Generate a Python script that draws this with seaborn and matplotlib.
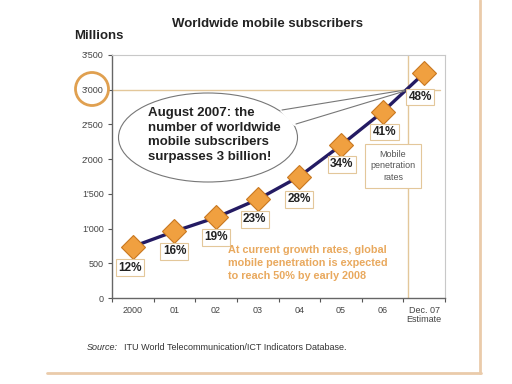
import matplotlib
matplotlib.use("Agg")
import matplotlib.pyplot as plt
from matplotlib.patches import Ellipse, Polygon, Circle
from matplotlib.ticker import FuncFormatter
import seaborn as sns
import pandas as pd

# Data
years = ["2000", "01", "02", "03", "04", "05", "06", "Dec. 07\nEstimate"]
subscribers = [740, 960, 1160, 1420, 1750, 2200, 2680, 3240]
penetration = ["12%", "16%", "19%", "23%", "28%", "34%", "41%", "48%"]
yticks = [0, 500, 1000, 1500, 2000, 2500, 3000, 3500]

df = pd.DataFrame({"x": range(len(years)), "y": subscribers})

sns.set_theme(style="white")
plt.rcParams["font.family"] = ["Liberation Sans", "DejaVu Sans"]

W, H = 512, 384
fig = plt.figure(figsize=(W / 100, H / 100), dpi=100)
fig.patch.set_facecolor("white")

ax = fig.add_axes([112 / W, (H - 298) / H, 333 / W, 243 / H])
tan = "#E3C79A"
orange = "#F0A040"
navy = "#241B63"

ax.axhline(3000, xmin=0, xmax=(7.38 + 0.5) / 8, color=tan, lw=1, zorder=1)
ax.axvline(6.6, color=tan, lw=1, zorder=1)

sns.lineplot(data=df, x="x", y="y", ax=ax, color=navy, lw=2.4, marker="D",
             markersize=12, markerfacecolor=orange, markeredgecolor="#C87820",
             markeredgewidth=0.8, zorder=3)

offsets = [(-3, -21), (0, -20), (0, -20), (-3, -20), (0, -23), (1, -19), (2, -20), (-4, -24)]
for i, (lab, off) in enumerate(zip(penetration, offsets)):
    ax.annotate(lab, (i, subscribers[i]), xytext=off, textcoords="offset pixels",
                ha="center", va="center", fontsize=8.5, fontweight="bold", color="#222222",
                bbox=dict(boxstyle="square,pad=0.2", fc="white", ec=tan, lw=0.8), zorder=4)

ax.set_xlim(-0.5, 7.5)
ax.set_ylim(0, 3500)
ax.set_xticks(range(len(years)))
ax.set_xticklabels(years, fontsize=6.5, color="#444444", linespacing=1.0)
ax.set_yticks(yticks)
ax.yaxis.set_major_formatter(FuncFormatter(lambda v, p: f"{int(v):,}".replace(",", "'")))
ax.tick_params(axis="y", labelsize=6.5, labelcolor="#444444", length=3, width=0.8,
               color="#555555", left=True, pad=3)
ax.tick_params(axis="x", length=0, pad=6)
ax.set_xticks([i + 0.5 for i in range(-1, 8)], minor=True)
ax.tick_params(axis="x", which="minor", length=3, width=0.8, color="#555555", bottom=True)
ax.set_xlabel("")
ax.set_ylabel("")
for side in ["left", "bottom"]:
    ax.spines[side].set_color("#666666")
    ax.spines[side].set_linewidth(1.0)
for side in ["top", "right"]:
    ax.spines[side].set_color("#C8C8C8")
    ax.spines[side].set_linewidth(0.8)

# overlay in pixel coordinates for annotations and frame
ov = fig.add_axes([0, 0, 1, 1], zorder=5)
ov.set_xlim(0, W)
ov.set_ylim(H, 0)
ov.axis("off")
ov.patch.set_alpha(0)

ov.plot([480, 480], [0, 373], color="#EACBAA", lw=2)
ov.plot([47, 481], [373, 373], color="#EACBAA", lw=2)

# ring around the 3'000 tick label
ov.add_patch(Circle((92, 89), 16.5, fill=False, ec="#E0A050", lw=2))

# speech bubble
ov.add_patch(Ellipse((208, 137.5), 179, 89, fc="white", ec="#777777", lw=0.8))
ov.add_patch(Polygon([(280, 111), (405, 90), (294, 126)], closed=True, fc="white", ec="none"))
ov.plot([282, 405], [110, 90], color="#777777", lw=0.8)
ov.plot([296, 405], [124, 91], color="#777777", lw=0.8)
ov.text(148, 107, "August 2007: the\nnumber of worldwide\nmobile subscribers\nsurpasses 3 billion!",
        ha="left", va="top", fontsize=9.5, fontweight="bold", color="#222222", linespacing=1.3)

ov.text(228, 245, "At current growth rates, global\nmobile penetration is expected\nto reach 50% by early 2008",
        ha="left", va="top", fontsize=7.8, fontweight="bold", color="#E9A95E", linespacing=1.4)

ov.text(393, 166, "Mobile\npenetration\nrates", ha="center", va="center", fontsize=6.5,
        color="#555555", linespacing=1.4,
        bbox=dict(boxstyle="square,pad=0.6", fc="white", ec=tan, lw=0.8))

ov.text(267, 24, "Worldwide mobile subscribers", ha="center", va="center",
        fontsize=9.5, fontweight="bold", color="#222222")
ov.text(74, 36, "Millions", ha="left", va="center", fontsize=9.5, fontweight="bold", color="#222222")

ov.text(87, 347, "Source:", ha="left", va="center", fontsize=6.5, style="italic", color="#333333")
ov.text(124, 347, "ITU World Telecommunication/ICT Indicators Database.", ha="left",
        va="center", fontsize=6.5, color="#333333")

fig.savefig("out.png", dpi=100)
